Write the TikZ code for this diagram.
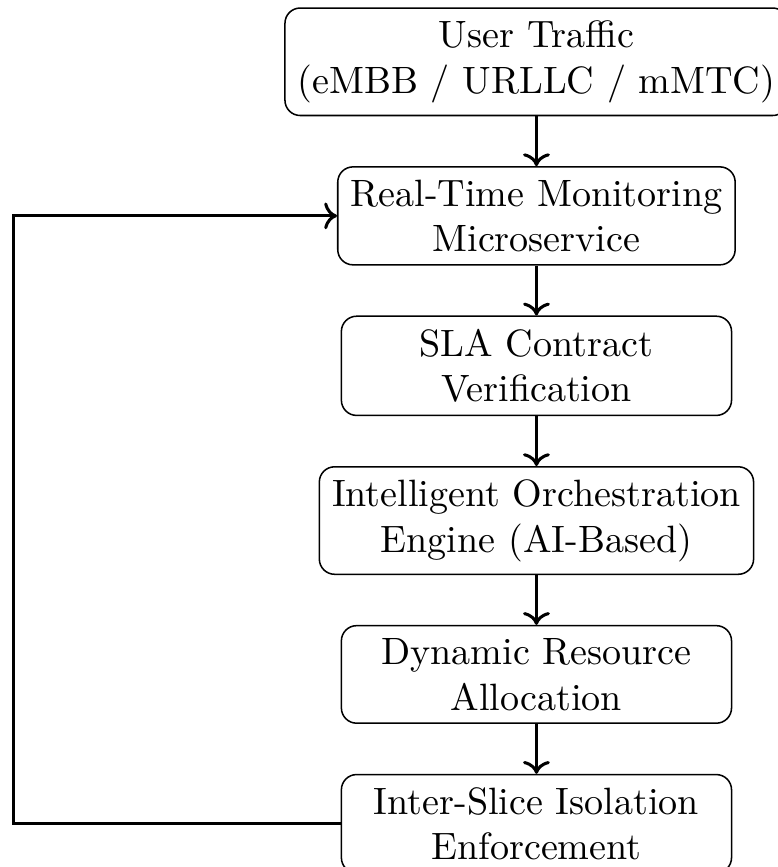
\documentclass[tikz,border=0pt]{standalone}
\usetikzlibrary{arrows.meta,positioning}
\begin{document}
\begin{tikzpicture}[node distance=0.46cm,
  caja/.style={draw,rounded corners,align=center,minimum width=3.6cm},
  flecha/.style={->,thick}]
  \useasboundingbox (0,0) rectangle (7.17,-8.0);
  % etapas
  \node[caja] (trafico) at (4.95,-0.57) {User Traffic\\(eMBB / URLLC / mMTC)};
  \node[caja,below=of trafico] (monitor) {Real-Time Monitoring\\Microservice};
  \node[caja,below=of monitor] (sla) {SLA Contract\\Verification};
  \node[caja,below=of sla] (orquesta) {Intelligent Orchestration\\Engine (AI-Based)};
  \node[caja,below=of orquesta] (recursos) {Dynamic Resource\\Allocation};
  \node[caja,below=of recursos] (aislamiento) {Inter-Slice Isolation\\Enforcement};
  % flechas
  \foreach \a/\b in {trafico/monitor,monitor/sla,sla/orquesta,orquesta/recursos,recursos/aislamiento}
    \draw[flecha] (\a) -- (\b);
  % realimentacion
  \draw[flecha] (aislamiento.west) -- ++(-3.02,0) |- (monitor.west);
\end{tikzpicture}
\end{document}
